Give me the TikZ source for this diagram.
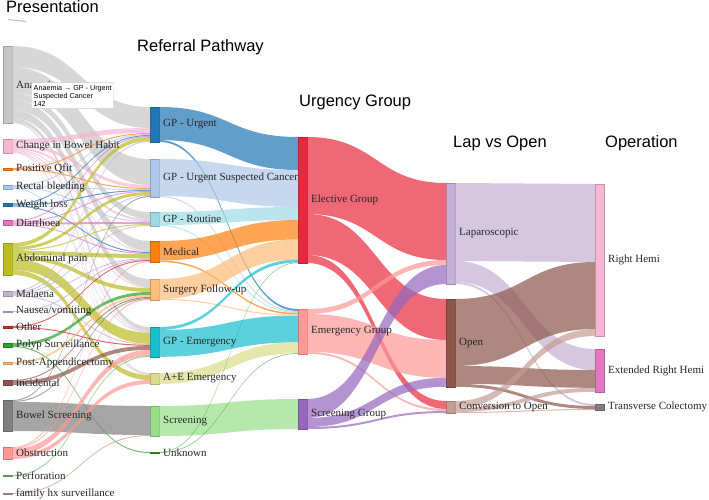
\documentclass[tikz,border=0pt]{standalone}
\usepackage{fontspec}
\setmainfont{Liberation Serif}
\newfontfamily\titlefont{Liberation Sans}
\usetikzlibrary{positioning}

\definecolor{tabblue}{HTML}{1F77B4}
\definecolor{tablblue}{HTML}{AEC7E8}
\definecolor{taborange}{HTML}{FF7F0E}
\definecolor{tablorange}{HTML}{FFBB78}
\definecolor{tabgreen}{HTML}{2CA02C}
\definecolor{tablgreen}{HTML}{98DF8A}
\definecolor{tabred}{HTML}{D62728}
\definecolor{tablred}{HTML}{FF9896}
\definecolor{tabpurple}{HTML}{9467BD}
\definecolor{tablpurple}{HTML}{C5B0D5}
\definecolor{tabbrown}{HTML}{8C564B}
\definecolor{tablbrown}{HTML}{C49C94}
\definecolor{tabpink}{HTML}{E377C2}
\definecolor{tablpink}{HTML}{F7B6D2}
\definecolor{tabgrey}{HTML}{7F7F7F}
\definecolor{tablgrey}{HTML}{C7C7C7}
\definecolor{tabolive}{HTML}{BCBD22}
\definecolor{tablolive}{HTML}{DBDB8D}
\definecolor{tabcyan}{HTML}{17BECF}
\definecolor{tablcyan}{HTML}{9EDAE5}
\definecolor{elecred}{HTML}{E8283C}
\colorlet{perfgreen}{tabgreen!70}
\colorlet{nauspurple}{tabpurple!60}

% bar of the sankey: name, x, top, height, colour
\newcommand\snode[5]{%
  \node[bar, fill=#5, draw=#5!80!black, minimum height=#4pt] (#1) at (#2,#3) {};
  \expandafter\gdef\csname so@#1\endcsname{0}%
  \expandafter\gdef\csname si@#1\endcsname{0}%
}
% ribbon: source, target, width, colour
\newcommand\flow[4]{%
  \edef\flA{\csname so@#1\endcsname}\edef\flB{\csname si@#2\endcsname}%
  \fill[#4, fill opacity=.7]
    ([yshift=-\flA pt]#1.north east) .. controls +(70,0) and +(-70,0) .. ([yshift=-\flB pt]#2.north west)
    -- ([yshift=-\flB pt-#3pt]#2.north west) .. controls +(-70,0) and +(70,0) .. ([yshift=-\flA pt-#3pt]#1.north east) -- cycle;
  \pgfmathsetmacro\flA{\flA+#3}\expandafter\xdef\csname so@#1\endcsname{\flA}%
  \pgfmathsetmacro\flB{\flB+#3}\expandafter\xdef\csname si@#2\endcsname{\flB}%
}

\begin{document}
\begin{tikzpicture}[x=1pt,y=-1pt,
  bar/.style={rectangle, inner sep=0pt, outer sep=0pt, minimum width=9pt, anchor=north west, line width=0.4pt},
  lbl/.style={font=\fontsize{11}{12}\selectfont, text=black!85, inner sep=0pt},
  ttl/.style={font=\titlefont\fontsize{16.5}{18}\selectfont, anchor=base west, inner sep=0pt},
  tip/.style={font=\titlefont\fontsize{7.2}{8.2}\selectfont, fill=white, draw=black!20, rounded corners=1pt,
    minimum width=80pt, minimum height=26pt, align=left, inner sep=2pt, anchor=north west}]
  \fill[white] (0,0) rectangle (709,500);
  \useasboundingbox (0,0) rectangle (709,500);

  % Presentation
  \snode{anaemia}{3}{46}{77}{tablgrey}
  \snode{cibh}{3}{139}{14}{tablpink}
  \snode{qfit}{3}{168}{2}{taborange}
  \snode{rectal}{3}{185}{3.8}{tablblue}
  \snode{weight}{3}{203.5}{3}{tabblue}
  \snode{diarr}{3}{220.5}{5}{tabpink}
  \snode{abdo}{3}{243}{32}{tabolive}
  \snode{malaena}{3}{291}{5}{tablpurple}
  \snode{nausea}{3}{311}{1}{tablpurple}
  \snode{other}{3}{326}{2}{tabred}
  \snode{polyp}{3}{343}{4}{tabgreen}
  \snode{postapp}{3}{362}{2}{tablorange}
  \snode{incid}{3}{380}{5}{tabbrown}
  \snode{bowelscr}{3}{400}{31}{tabgrey}
  \snode{obstr}{3}{447}{12}{tablred}
  \snode{perf}{3}{475}{1}{perfgreen}
  \snode{famhx}{3}{493}{1}{tablbrown}
  % Referral Pathway
  \snode{gpurg}{150}{107}{35}{tabblue}
  \snode{gpusc}{150}{159}{38}{tablblue}
  \snode{gprout}{150}{212}{14}{tablcyan}
  \snode{medical}{150}{241}{21}{taborange}
  \snode{surgfu}{150}{279}{21}{tablorange}
  \snode{gpemerg}{150}{327}{29.8}{tabcyan}
  \snode{aande}{150}{373}{11}{tablolive}
  \snode{screen}{150}{406}{30}{tablgreen}
  \snode{unknown}{150}{452}{1}{tabgreen}
  % Urgency Group
  \snode{elective}{298}{137}{126}{elecred}
  \snode{emergency}{298}{309}{44.8}{tablred}
  \snode{scrgroup}{298}{399}{30}{tabpurple}
  % Lap vs Open
  \snode{lap}{446}{183}{101}{tablpurple}
  \snode{open}{446}{299}{87.8}{tabbrown}
  \snode{conv}{446}{401}{12}{tablbrown}
  % Operation
  \snode{righthemi}{595}{184}{152}{tablpink}
  \snode{extrh}{595}{349}{42.8}{tabpink}
  \snode{transv}{595}{404}{6}{tabgrey}

  \flow{anaemia}{gpurg}{21}{tablgrey}
  \flow{anaemia}{gpusc}{26}{tablgrey}
  \flow{anaemia}{gprout}{7}{tablgrey}
  \flow{anaemia}{medical}{10}{tablgrey}
  \flow{anaemia}{surgfu}{8}{tablgrey}
  \flow{anaemia}{gpemerg}{4}{tablgrey}
  \flow{anaemia}{aande}{1}{tablgrey}
  \flow{cibh}{gpurg}{5}{tablpink}
  \flow{cibh}{gpusc}{3}{tablpink}
  \flow{cibh}{gprout}{2}{tablpink}
  \flow{cibh}{medical}{1}{tablpink}
  \flow{cibh}{surgfu}{1}{tablpink}
  \flow{cibh}{gpemerg}{1}{tablpink}
  \flow{cibh}{aande}{1}{tablpink}
  \flow{qfit}{gpurg}{1}{taborange}
  \flow{qfit}{gpusc}{1}{taborange}
  \flow{rectal}{gpurg}{1}{tablblue}
  \flow{rectal}{gpusc}{1}{tablblue}
  \flow{rectal}{gprout}{1}{tablblue}
  \flow{rectal}{gpemerg}{0.8}{tablblue}
  \flow{weight}{gpurg}{1}{tabblue}
  \flow{weight}{gpusc}{1}{tabblue}
  \flow{weight}{medical}{1}{tabblue}
  \flow{diarr}{gpurg}{1}{tabpink}
  \flow{diarr}{gpusc}{1}{tabpink}
  \flow{diarr}{gprout}{2}{tabpink}
  \flow{diarr}{medical}{1}{tabpink}
  \flow{abdo}{gpurg}{4}{tabolive}
  \flow{abdo}{gpusc}{3}{tabolive}
  \flow{abdo}{gprout}{1}{tabolive}
  \flow{abdo}{medical}{4}{tabolive}
  \flow{abdo}{surgfu}{4}{tabolive}
  \flow{abdo}{gpemerg}{11}{tabolive}
  \flow{abdo}{aande}{5}{tabolive}
  \flow{malaena}{gpurg}{1}{tablpurple}
  \flow{malaena}{gpusc}{1}{tablpurple}
  \flow{malaena}{gprout}{1}{tablpurple}
  \flow{malaena}{medical}{1}{tablpurple}
  \flow{malaena}{gpemerg}{1}{tablpurple}
  \flow{nausea}{medical}{1}{nauspurple}
  \flow{other}{medical}{1}{tabred}
  \flow{other}{gpemerg}{1}{tabred}
  \flow{polyp}{surgfu}{3}{tabgreen}
  \flow{polyp}{unknown}{1}{tabgreen}
  \flow{postapp}{surgfu}{2}{tablorange}
  \flow{incid}{surgfu}{1}{tabbrown}
  \flow{incid}{gpemerg}{4}{tabbrown}
  \flow{bowelscr}{gpusc}{1}{tabgrey}
  \flow{bowelscr}{surgfu}{1}{tabgrey}
  \flow{bowelscr}{screen}{29}{tabgrey}
  \flow{obstr}{medical}{1}{tablred}
  \flow{obstr}{surgfu}{1}{tablred}
  \flow{obstr}{gpemerg}{6}{tablred}
  \flow{obstr}{aande}{4}{tablred}
  \flow{perf}{gpemerg}{1}{perfgreen}
  \flow{famhx}{screen}{1}{tablbrown}

  \flow{gpurg}{elective}{33}{tabblue}
  \flow{gpurg}{emergency}{2}{tabblue}
  \flow{gpusc}{elective}{37}{tablblue}
  \flow{gpusc}{emergency}{1}{tablblue}
  \flow{gprout}{elective}{13}{tablcyan}
  \flow{gprout}{emergency}{1}{tablcyan}
  \flow{medical}{elective}{19.5}{taborange}
  \flow{medical}{emergency}{1.5}{taborange}
  \flow{surgfu}{elective}{20}{tablorange}
  \flow{surgfu}{emergency}{1}{tablorange}
  \flow{gpemerg}{elective}{3}{tabcyan}
  \flow{gpemerg}{emergency}{26.8}{tabcyan}
  \flow{aande}{emergency}{11}{tablolive}
  \flow{screen}{scrgroup}{30}{tablgreen}
  \flow{unknown}{elective}{0.5}{tabgreen}
  \flow{unknown}{emergency}{0.5}{tabgreen}

  \flow{elective}{lap}{77}{elecred}
  \flow{elective}{open}{41}{elecred}
  \flow{elective}{conv}{8}{elecred}
  \flow{emergency}{lap}{5}{tablred}
  \flow{emergency}{open}{37.8}{tablred}
  \flow{emergency}{conv}{2}{tablred}
  \flow{scrgroup}{lap}{19}{tabpurple}
  \flow{scrgroup}{open}{9}{tabpurple}
  \flow{scrgroup}{conv}{2}{tabpurple}

  \flow{lap}{righthemi}{78}{tablpurple}
  \flow{lap}{extrh}{21}{tablpurple}
  \flow{lap}{transv}{2}{tablpurple}
  \flow{open}{righthemi}{67}{tabbrown}
  \flow{open}{extrh}{17.8}{tabbrown}
  \flow{open}{transv}{3}{tabbrown}
  \flow{conv}{righthemi}{7}{tablbrown}
  \flow{conv}{extrh}{4}{tablbrown}
  \flow{conv}{transv}{1}{tablbrown}

  \node[lbl, right=4pt of anaemia] (anaemia-l) {Anaemia};
  \node[lbl, right=4pt of cibh] (cibh-l) {Change in Bowel Habit};
  \node[lbl, right=4pt of qfit] (qfit-l) {Positive Qfit};
  \node[lbl, right=4pt of rectal] (rectal-l) {Rectal bleeding};
  \node[lbl, right=4pt of weight] (weight-l) {Weight loss};
  \node[lbl, right=4pt of diarr] (diarr-l) {Diarrhoea};
  \node[lbl, right=4pt of abdo] (abdo-l) {Abdominal pain};
  \node[lbl, right=4pt of malaena] (malaena-l) {Malaena};
  \node[lbl, right=4pt of nausea] (nausea-l) {Nausea/vomiting};
  \node[lbl, right=4pt of other] (other-l) {Other};
  \node[lbl, right=4pt of polyp] (polyp-l) {Polyp Surveillance};
  \node[lbl, right=4pt of postapp] (postapp-l) {Post-Appendicectomy};
  \node[lbl, right=4pt of incid] (incid-l) {incidental};
  \node[lbl, right=4pt of bowelscr] (bowelscr-l) {Bowel Screening};
  \node[lbl, right=4pt of obstr] (obstr-l) {Obstruction};
  \node[lbl, right=4pt of perf] (perf-l) {Perforation};
  \node[lbl, right=4pt of famhx] (famhx-l) {family hx surveillance};
  \node[lbl, right=4pt of gpurg] (gpurg-l) {GP - Urgent};
  \node[lbl, right=4pt of gpusc] (gpusc-l) {GP - Urgent Suspected Cancer};
  \node[lbl, right=4pt of gprout] (gprout-l) {GP - Routine};
  \node[lbl, right=4pt of medical] (medical-l) {Medical};
  \node[lbl, right=4pt of surgfu] (surgfu-l) {Surgery Follow-up};
  \node[lbl, right=4pt of gpemerg] (gpemerg-l) {GP - Emergency};
  \node[lbl, right=4pt of aande] (aande-l) {A+E Emergency};
  \node[lbl, right=4pt of screen] (screen-l) {Screening};
  \node[lbl, right=4pt of unknown] (unknown-l) {Unknown};
  \node[lbl, right=4pt of elective] (elective-l) {Elective Group};
  \node[lbl, right=4pt of emergency] (emergency-l) {Emergency Group};
  \node[lbl, right=4pt of scrgroup] (scrgroup-l) {Screening Group};
  \node[lbl, right=4pt of lap] (lap-l) {Laparoscopic};
  \node[lbl, right=4pt of open] (open-l) {Open};
  \node[lbl, right=4pt of conv] (conv-l) {Conversion to Open};
  \node[lbl, right=4pt of righthemi] (righthemi-l) {Right Hemi};
  \node[lbl, right=4pt of extrh] (extrh-l) {Extended Right Hemi};
  \node[lbl, right=4pt of transv] (transv-l) {Transverse Colectomy};

  \node[ttl] (t-pres) at (6,13) {Presentation};
  \node[ttl] (t-ref) at (137,52) {Referral Pathway};
  \node[ttl] (t-urg) at (299,107) {Urgency Group};
  \node[ttl] (t-lap) at (453,147) {Lap vs Open};
  \node[ttl] (t-op) at (605,147) {Operation};

  \draw[cyan!40!gray!60, line width=1pt] (8,19.5) -- (26,21.5);
  \node[tip] (hover) at (31.5,82.5) {Anaemia → GP - Urgent\\Suspected Cancer\\142};
\end{tikzpicture}
\end{document}
